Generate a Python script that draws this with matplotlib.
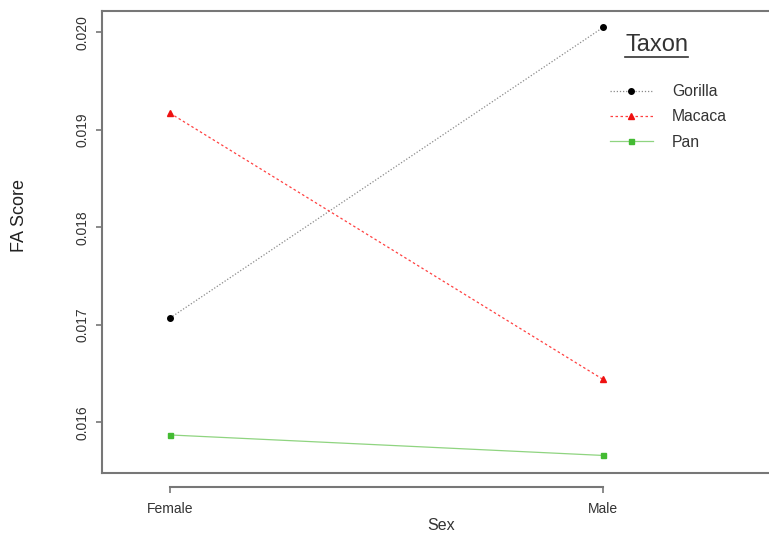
import matplotlib
matplotlib.use("Agg")
import matplotlib.pyplot as plt
from matplotlib.lines import Line2D

plt.rcParams['font.family'] = ['Liberation Sans', 'DejaVu Sans']

sex = ['Female', 'Male']
taxa = ['Gorilla', 'Macaca', 'Pan']
gorilla = [0.01707, 0.02005]
macaca = [0.01917, 0.01644]
pan = [0.01587, 0.01566]
y_ticks = [0.016, 0.017, 0.018, 0.019, 0.020]

styles = {
    'Gorilla': dict(color='#8a8a8a', ls=(0, (1, 1.5)), marker='o', mc='black', ms=4.0),
    'Macaca': dict(color='#ff4040', ls=(0, (2, 2)), marker='^', mc='#ee1111', ms=4.5),
    'Pan': dict(color='#8fd480', ls='-', marker='s', mc='#44bb33', ms=3.6),
}

W, H = 769, 533
fig = plt.figure(figsize=(W / 100, H / 100), dpi=100)
ax = fig.add_axes([101.7 / W, (H - 472.5) / H, (780 - 101.7) / W, (472.5 - 11) / H])

x = [1, 2]
handles = []
for name, vals in zip(taxa, [gorilla, macaca, pan]):
    s = styles[name]
    ax.plot(x, vals, color=s['color'], ls=s['ls'], lw=0.9)
    ax.plot(x, vals, ls='none', marker=s['marker'], color=s['mc'], ms=s['ms'])
    handles.append(Line2D([], [], color=s['color'], ls=s['ls'], lw=0.9,
                          marker=s['marker'], mfc=s['mc'], mec=s['mc'], ms=s['ms']))

ax.set_xlim(0.842, 2.0 + (780 - 603) / 433)
ax.set_ylim(0.015485, 0.0202185)

box_c = '#777777'
for sp in ['left', 'top', 'right']:
    ax.spines[sp].set_color(box_c)
    ax.spines[sp].set_linewidth(1.5)
ax.plot([0, 1], [0, 0], transform=ax.transAxes, color=box_c, lw=1.5, clip_on=False)

ax.spines['bottom'].set_position(('outward', 10.5))
ax.spines['bottom'].set_bounds(1, 2)
ax.spines['bottom'].set_color(box_c)
ax.spines['bottom'].set_linewidth(1.5)

ax.set_xticks(x)
ax.set_xticklabels(sex)
ax.set_yticks(y_ticks)
ax.set_yticklabels([f'{v:.3f}' for v in y_ticks])
ax.tick_params(axis='both', colors=box_c, labelcolor='#333333', length=4.5, width=1.2,
               labelsize=10)
ax.tick_params(axis='x', pad=6)
ax.tick_params(axis='y', labelrotation=90, pad=4)
for lab in ax.get_yticklabels():
    lab.set_va('center')

ax.set_xlabel('Sex', fontsize=11.5, color='#333333', labelpad=2)
fig.text(20 / W, 1 - 215 / H, 'FA Score', rotation=90, fontsize=13,
         color='#222222', ha='center', va='center')

leg = ax.legend(handles, taxa, loc='upper left', frameon=False,
                bbox_to_anchor=(596 / W, 1 - 70 / H), bbox_transform=fig.transFigure,
                fontsize=11.3, handlelength=2.7, handletextpad=1.25, labelspacing=0.66)
for t in leg.get_texts():
    t.set_color('#333333')

title = fig.text(625 / W, 1 - 45 / H, 'Taxon', fontsize=17, color='#333333',
                 ha='left', va='center')
fig.canvas.draw()
bb = title.get_window_extent()
inv = fig.transFigure.inverted()
(x0, y0), (x1, y1) = inv.transform([[bb.x0, bb.y0], [bb.x1, bb.y0]])
fig.add_artist(Line2D([x0, x1], [y0 - 1 / H, y0 - 1 / H], color='#333333', lw=1.2,
                      transform=fig.transFigure))

fig.savefig('out.png', dpi=100)
